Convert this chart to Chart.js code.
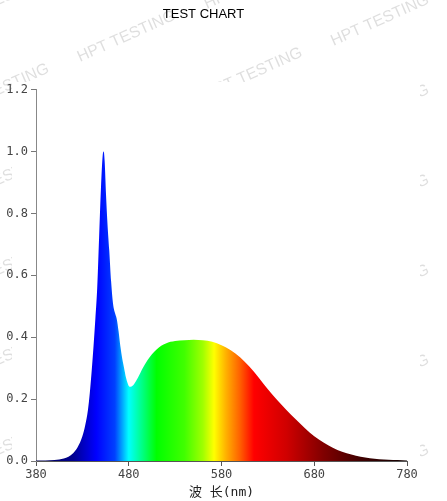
<!DOCTYPE html>
<html>
<head>
<meta charset="utf-8">
<script src="https://cdn.jsdelivr.net/npm/chart.js@4.4.1/dist/chart.umd.min.js"></script>
<style>
  html, body { margin: 0; padding: 0; background: #fff; }
  canvas { display: block; }
</style>
</head>
<body>
<canvas id="spectrumChart" width="447" height="501"></canvas>
<script>
// wavelength (nm) and relative intensity
const wavelengths = [380, 390, 400, 405, 410, 415, 420, 425, 430, 433, 436, 438, 440, 442, 444, 446, 448, 450, 452, 453,
  454, 455.5, 457, 459, 461, 463, 465, 467, 469, 471, 473, 475, 477, 479, 481, 483, 486, 490, 495, 500,
  505, 510, 515, 520, 525, 530, 540, 550, 560, 570, 580, 590, 600, 610, 620, 630, 640, 650, 660, 670,
  680, 690, 700, 710, 720, 730, 740, 750, 760, 770, 780];
const intensity = [0.002, 0.002, 0.003, 0.005, 0.008, 0.014, 0.025, 0.045, 0.08, 0.115, 0.165, 0.22, 0.29, 0.37, 0.46, 0.56, 0.72, 0.88, 0.99, 1.0,
  0.97, 0.86, 0.77, 0.68, 0.58, 0.51, 0.48, 0.46, 0.42, 0.37, 0.33, 0.30, 0.27, 0.25, 0.24, 0.241, 0.25, 0.27, 0.30, 0.325,
  0.345, 0.36, 0.372, 0.38, 0.385, 0.388, 0.39, 0.392, 0.39, 0.385, 0.374, 0.358, 0.335, 0.305, 0.27, 0.232, 0.197, 0.165, 0.135, 0.106,
  0.08, 0.06, 0.043, 0.03, 0.021, 0.014, 0.009, 0.006, 0.004, 0.003, 0.002];

const xTicks = [380, 480, 580, 680, 780];
const yTicks = [0, 0.2, 0.4, 0.6, 0.8, 1.0, 1.2];

// colour of the fill at each wavelength
const colorStopsNm = [380, 420, 445, 465, 480, 495, 510, 540, 560, 572, 585, 600, 615, 650, 690, 730, 780];
const colorStops = ["#000050", "#000090", "#0000ff", "#0040ff", "#00ffff", "#00ff80", "#00ff00", "#40ff00", "#a0ff00",
  "#ffff00", "#ffb000", "#ff6000", "#ff0000", "#d00000", "#800000", "#400000", "#100000"];

const points = wavelengths.map((w, i) => ({ x: w, y: intensity[i] }));

const monoFont = "'DejaVu Sans Mono', 'Liberation Mono', monospace";

// faint tiled watermark behind the chart picture
const watermark = {
  id: "watermark",
  beforeDraw(chart) {
    const c = chart.ctx;
    c.save();
    c.fillStyle = "#fff";
    c.fillRect(0, 0, chart.width, chart.height);
    c.font = "16px 'Liberation Sans', Arial, sans-serif";
    c.fillStyle = "rgba(0,0,0,0.13)";
    c.textAlign = "right";
    for (let i = -2; i < 5; i++) {
      for (let j = -2; j < 7; j++) {
        const ex = 50 + i * 126.7;
        const ey = 72 - i * 53 + j * 90;
        c.save();
        c.translate(ex, ey);
        c.rotate(-24 * Math.PI / 180);
        c.fillText("HPT TESTING", 0, 0);
        c.restore();
      }
    }
    // the chart picture itself is opaque
    c.fillStyle = "#fff";
    c.fillRect(12, 82, 408, 419);
    c.restore();
  }
};

const ctx = document.getElementById("spectrumChart").getContext("2d");

const spectrumChart = new Chart(ctx, {
  type: "line",
  data: {
    datasets: [
      {
        data: points,
        borderWidth: 0,
        pointRadius: 0,
        fill: "origin",
        cubicInterpolationMode: "monotone",
        backgroundColor: (context) => {
          const chart = context.chart;
          if (!chart.chartArea) return "#00f";
          const xs = chart.scales.x;
          const g = chart.ctx.createLinearGradient(xs.getPixelForValue(380), 0, xs.getPixelForValue(780), 0);
          colorStopsNm.forEach((nm, i) => g.addColorStop((nm - 380) / 400, colorStops[i]));
          return g;
        },
      },
    ],
  },
  options: {
    responsive: false,
    animation: false,
    devicePixelRatio: 1,
    layout: { padding: { left: 0, right: 40, top: 0, bottom: 0 } },
    plugins: {
      legend: { display: false },
      tooltip: { enabled: false },
      title: {
        display: true,
        text: "TEST CHART",
        color: "#000",
        font: { family: "'Liberation Sans', Arial, sans-serif", size: 13, weight: "normal" },
        padding: { top: 7, bottom: 67 },
      },
    },
    scales: {
      x: {
        type: "linear",
        min: 380,
        max: 780,
        afterFit: (scale) => { scale.height = 40; },
        afterBuildTicks: (scale) => { scale.ticks = xTicks.map((v) => ({ value: v })); },
        ticks: {
          color: "#444",
          padding: 2,
          maxRotation: 0,
          font: { family: monoFont, size: 12 },
        },
        grid: { drawOnChartArea: false, drawTicks: true, tickLength: 5, color: "#555" },
        border: { color: "#555", width: 1 },
        title: {
          display: true,
          text: "波 长(nm)",
          color: "#222",
          font: { family: monoFont + ", 'Noto Sans CJK SC'", size: 13 },
          padding: 1,
        },
      },
      y: {
        min: 0,
        max: 1.2,
        afterFit: (scale) => { scale.width = 36; },
        afterBuildTicks: (scale) => { scale.ticks = yTicks.map((v) => ({ value: v })); },
        ticks: {
          color: "#444",
          padding: 3,
          font: { family: monoFont, size: 12 },
          callback: (v) => Number(v).toFixed(1),
        },
        grid: { drawOnChartArea: false, drawTicks: true, tickLength: 5, color: "#777" },
        border: { color: "#888", width: 1 },
      },
    },
  },
  plugins: [watermark],
});
</script>
</body>
</html>
